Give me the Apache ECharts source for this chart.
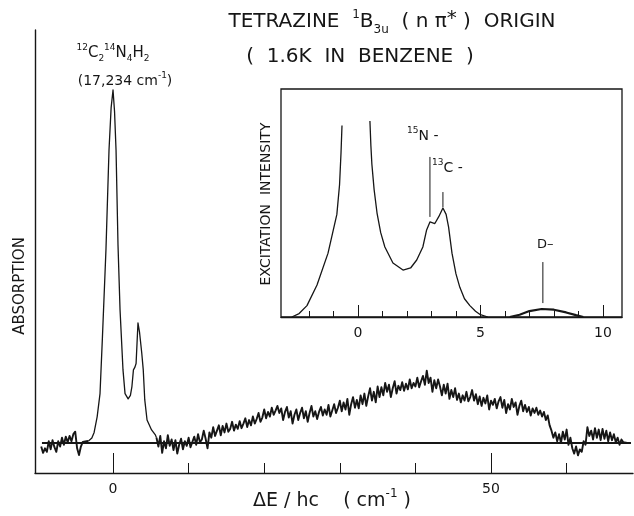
<!DOCTYPE html>
<html>
<head>
<meta charset="utf-8">
<script src="https://cdn.jsdelivr.net/npm/echarts@6/dist/echarts.min.js"></script>
<style>
  html, body { margin: 0; padding: 0; background: #fff; }
  #chart { width: 634px; height: 516px; }
</style>
</head>
<body>
<div id="chart"></div>
<script>
// absorption trace, x = ΔE/hc (cm-1) from the origin
const noiseStep = 0.25
const leftNoiseStart = -9.5
const leftNoise = [-1, -2.8, -1.5, -2.5, 0.5, -1.8, 0.8, -1.2, -2.5, 0.5, -1, 1.5, -0.5, 1.8, 0.2, 2.0,
  0.5, 2.5, 3.2, -1.5, -3.4, -1.0, 0.3, 0, 0.5, 0.6]

const peakTrace = [[-3.25, 0.6], [-3.0, 0.8], [-2.8, 1.4], [-2.5, 3], [-2.1, 7.4], [-1.72, 14], [-1.4, 30], [-1.06, 48],
  [-0.93, 55], [-0.53, 83], [-0.25, 95], [0, 100], [0.2, 94], [0.4, 83], [0.66, 56], [0.93, 37.7],
  [1.32, 20.7], [1.59, 14], [2.0, 12.5], [2.3, 13.5], [2.5, 16], [2.7, 20.7], [2.9, 21.5], [3.05, 22.5],
  [3.3, 34], [3.5, 31.5], [3.8, 25.5], [4.0, 20.7], [4.2, 12.2], [4.5, 6.5], [5.1, 3.7], [5.6, 2.3], [5.75, 1.5]]

const bandStart = 5.75
const bandNoise = [
  1.5, -1.0, 2.0, -2.8, 0.5, -1.5, 2.2, -0.8, 1.0, -2.0, 0.8, -3.0, -0.5, 1.2, -1.8, 0.5, -0.8, 1.5, -1.2, 0.3,
  1.8, -0.5, 2.5, 0.2, 1.0, 3.5, 1.2, -1.5, 3.0, 1.5, 4.5, 2.0, 3.5, 5.0, 2.2, 4.8, 3.0, 5.5, 3.2, 4.0,
  6.0, 3.5, 5.2, 4.0, 6.2, 4.2, 5.5, 7.0, 4.5, 6.5, 5.0, 7.5, 5.5, 6.8, 8.5, 6.0, 7.2, 9.5, 7.0, 8.8,
  7.5, 10.0, 8.0, 9.2, 10.5, 8.5, 9.8, 6.5, 8.8, 10.2, 7.2, 9.0, 5.5, 8.0, 9.5, 6.5, 8.5, 10.0, 7.0, 9.0,
  6.0, 8.5, 10.5, 7.5, 9.0, 6.8, 8.8, 10.2, 7.8, 9.5, 8.0, 10.8, 7.5, 9.2, 11.0, 8.5, 10.0, 12.0, 9.0, 11.5,
  9.5, 12.5, 8.0, 11.0, 13.0, 10.0, 12.2, 9.8, 13.5, 11.0, 14.0, 10.5, 13.2, 15.5, 12.0, 14.5, 11.5, 16.0, 13.0, 15.8,
  13.5, 17.0, 14.5, 16.5, 13.0, 15.5, 17.5, 14.0, 16.2, 15.0, 17.2, 14.8, 16.8, 15.2, 18.0, 15.5, 17.0, 16.0, 18.5, 15.8,
  17.5, 19.0, 16.5, 20.5, 17.0, 18.5, 14.5, 17.8, 15.5, 18.0, 16.0, 13.5, 16.5, 14.0, 16.8, 12.5, 15.0, 13.0, 15.5, 12.2,
  14.0, 11.5, 13.5, 12.0, 14.5, 11.8, 13.0, 15.0, 12.0, 13.8, 11.0, 13.2, 10.5, 12.8, 11.2, 13.5, 9.5, 12.0, 10.8, 12.5,
  9.8, 11.8, 13.0, 10.0, 12.2, 8.5, 11.0, 9.5, 12.5, 10.2, 11.5, 8.0, 10.5, 12.0, 9.0, 10.8, 8.8, 10.2, 7.8, 9.8,
  8.5, 10.0, 8.0, 9.2, 7.5, 8.8, 6.5, 7.8, 5.0, 3.5, 1.5, 3.0, 0.5, 2.5, 0.0, 3.2, 1.0, 3.8, -0.5, 1.5,
  -1.5, -3.0, -1.0, -3.5, -1.8, -2.5, 0.5, -0.5, 4.5, 2.0, 3.5, 1.0, 4.2, 1.5, 3.8, 0.8, 4.0, 1.2, 3.5, 0.5,
  3.0, 0.8, 2.5, 0.2, 1.5, -0.5, 1.0, 0.2, 0.5, 0, 0.3, 0]

const baseline = [[-9.4, 0], [68.5, 0]]
const mainMinorTicks = [10, 20, 30, 40, 60]
const mainMajorTicks = [0, 50]

// inset: excitation spectrum around the origin (peak clipped)
const insetLeft = [[-2.7, 0], [-2.4, 1.5], [-2.08, 5], [-1.67, 14], [-1.22, 28], [-0.86, 45], [-0.75, 58],
  [-0.69, 72], [-0.65, 84]]
const insetRight = [[0.49, 86], [0.53, 75], [0.57, 67], [0.66, 56], [0.78, 45.6], [0.93, 37], [1.1, 30.7],
  [1.43, 23.7], [1.84, 20.6], [2.15, 21.5], [2.4, 25], [2.65, 30.7], [2.8, 38], [2.94, 41.7], [3.14, 41],
  [3.3, 44], [3.47, 47.8], [3.6, 45], [3.7, 39.5], [3.84, 28], [4.0, 19], [4.16, 13], [4.35, 8], [4.57, 5],
  [4.8, 2.5], [5.0, 1], [5.3, 0]]
const insetD = [[6.2, 0], [6.6, 1], [7.0, 2.6], [7.5, 3.5], [8.0, 3.2], [8.5, 2], [8.9, 0.8], [9.2, 0]]
const insetMinorTicks = [-2, -1, 1, 2, 3, 4, 6, 7, 8, 9]
const insetMajorTicks = [0, 5, 10]
// isotope marker lines: position, bottom, top
const insetMarks = [[2.94, 43.9, 70.2], [3.47, 48.2, 54.8], [7.55, 6.1, 24.1]]

const F = 'DejaVu Sans'
const INK = '#161616'

const leftData = leftNoise.map((v, i) => [leftNoiseStart + i * noiseStep, v])
const bandData = bandNoise.map((v, i) => [bandStart + i * noiseStep, v])

const axisLineStyle = { color: INK, width: 1.4 }

function xAx(grid, min, max, ticks, len, labels, show) {
  return {
    type: 'value', gridIndex: grid, position: 'bottom', min: min, max: max,
    axisLine: { show: show, onZero: false, lineStyle: axisLineStyle },
    axisTick: { show: true, inside: true, length: len, customValues: ticks, lineStyle: { color: INK, width: 1 } },
    axisLabel: labels ? { show: true, customValues: labels, color: INK, fontFamily: F, fontSize: 14, margin: 9 } : { show: false },
    splitLine: { show: false }
  }
}

function line(xi, data, w) {
  return {
    type: 'line', xAxisIndex: xi, yAxisIndex: xi < 2 ? 0 : 1, data: data,
    showSymbol: false, symbol: 'none', animation: false, silent: true,
    lineStyle: { color: INK, width: w, join: 'round' }
  }
}

let series = [
  line(0, baseline, 2),
  line(0, leftData, 1.9),
  line(0, peakTrace, 1.3),
  line(0, bandData, 1.9),
  line(2, insetLeft, 1.3),
  line(2, insetRight, 1.3),
  line(2, insetD, 2.2)
]
insetMarks.forEach(m => series.push(line(2, [[m[0], m[1]], [m[0], m[2]]], 1)))

function txt(x, y, text, size, align, extra) {
  return Object.assign({
    type: 'text', x: x, y: y, silent: true,
    style: {
      x: 0, y: 0, text: text, fill: INK, fontFamily: F, fontSize: size, lineHeight: Math.round(size * 1.35),
      align: align || 'center', verticalAlign: 'middle',
      rich: {
        sup: { fontSize: Math.round(size * 0.62), lineHeight: Math.round(size * 0.62), verticalAlign: 'top', fill: INK, fontFamily: F },
        sub: { fontSize: Math.round(size * 0.62), lineHeight: Math.round(size * 0.62), verticalAlign: 'bottom', fill: INK, fontFamily: F },
        star: { fontSize: Math.round(size * 1.0), lineHeight: Math.round(size * 0.9), verticalAlign: 'top', fill: INK, fontFamily: F }
      }
    }
  }, extra || {})
}

const chart = echarts.init(document.getElementById('chart'), null, { renderer: 'canvas' })
chart.setOption({
  backgroundColor: '#fff',
  animation: false,
  grid: [
    { left: 35, top: 30, right: 1, bottom: 43 },
    { left: 281, top: 89, width: 341, height: 228, show: true, borderColor: INK, borderWidth: 1.3, backgroundColor: 'transparent' }
  ],
  xAxis: [
    xAx(0, -10.32, 68.78, mainMinorTicks, 10, null, true),
    xAx(0, -10.32, 68.78, mainMajorTicks, 20, mainMajorTicks, false),
    xAx(1, -3.14, 10.78, insetMinorTicks, 6, null, true),
    xAx(1, -3.14, 10.78, insetMajorTicks, 12, insetMajorTicks, false)
  ],
  yAxis: [
    { type: 'value', gridIndex: 0, min: -8.5, max: 117, axisLine: { show: true, onZero: false, lineStyle: axisLineStyle },
      axisTick: { show: false }, axisLabel: { show: false }, splitLine: { show: false } },
    { type: 'value', gridIndex: 1, min: 0, max: 100, axisLine: { show: false }, axisTick: { show: false },
      axisLabel: { show: false }, splitLine: { show: false } }
  ],
  series: series,
  graphic: [
    txt(392, 22, 'TETRAZINE  {sup|1}B{sub|3u}  ( n π{star|*} )  ORIGIN', 20),
    txt(360, 57, '(  1.6K  IN  BENZENE  )', 20),
    txt(113, 53, '{sup|12}C{sub|2}{sup|14}N{sub|4}H{sub|2}', 15),
    txt(125, 81, '(17,234 cm{sup|-1})', 14),
    txt(407, 136, '{sup|15}N -', 14, 'left'),
    txt(432, 168, '{sup|13}C -', 14, 'left'),
    txt(537, 245, 'D–', 13, 'left'),
    txt(332, 501, 'ΔE / hc    ( cm{sup|-1} )', 19),
    txt(20, 286, 'ABSORPTION', 15, 'center', { rotation: Math.PI / 2 }),
    txt(266, 204, 'EXCITATION  INTENSITY', 14, 'center', { rotation: Math.PI / 2 })
  ]
})
</script>
</body>
</html>
